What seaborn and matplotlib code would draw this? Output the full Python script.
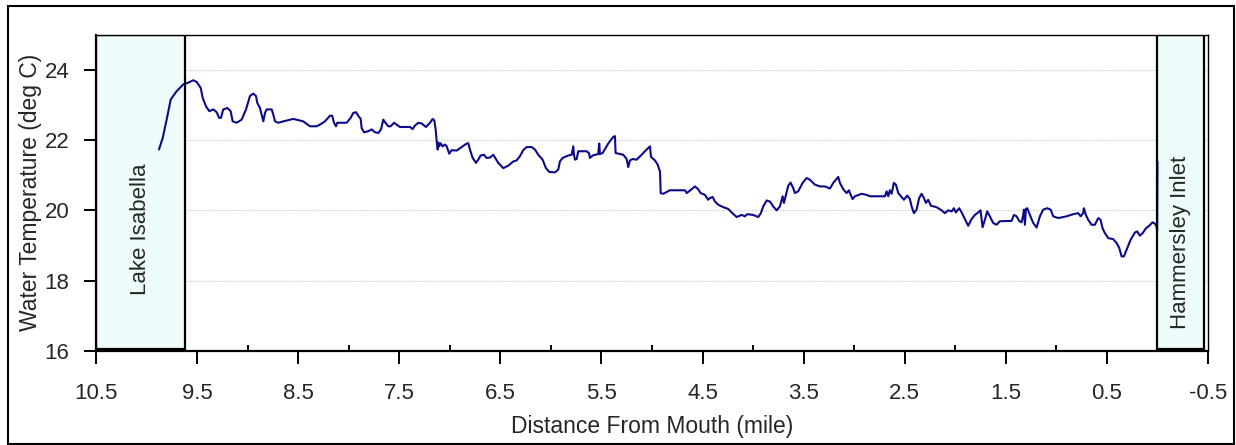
import matplotlib
matplotlib.use("Agg")
import matplotlib.pyplot as plt
from matplotlib.patches import Rectangle
from matplotlib.ticker import FixedLocator
import pandas as pd
import seaborn as sns

# Water temperature along the channel, by distance upstream from the mouth
distance_mi = [
    9.877, 9.840, 9.801, 9.761, 9.702, 9.637, 9.587, 9.538, 9.504, 9.464,
    9.445, 9.412, 9.379, 9.340, 9.306, 9.283, 9.264, 9.241, 9.201, 9.168,
    9.148, 9.108, 9.059, 9.016, 8.977, 8.944, 8.917, 8.905, 8.878, 8.845,
    8.828, 8.812, 8.762, 8.746, 8.729, 8.697, 8.647, 8.548, 8.450, 8.383,
    8.317, 8.284, 8.235, 8.185, 8.163, 8.146, 8.126, 8.113, 8.020, 7.981,
    7.955, 7.928, 7.906, 7.882, 7.872, 7.849, 7.807, 7.773, 7.740, 7.708,
    7.681, 7.658, 7.642, 7.609, 7.585, 7.552, 7.493, 7.394, 7.368, 7.345,
    7.312, 7.278, 7.236, 7.196, 7.170, 7.154, 7.140, 7.130, 7.120, 7.114,
    7.104, 7.091, 7.071, 7.048, 7.031, 7.006, 6.982, 6.932, 6.883, 6.833,
    6.818, 6.801, 6.774, 6.741, 6.719, 6.695, 6.662, 6.636, 6.603, 6.570,
    6.544, 6.521, 6.471, 6.422, 6.372, 6.339, 6.306, 6.274, 6.240, 6.190,
    6.158, 6.125, 6.082, 6.049, 6.016, 5.960, 5.927, 5.911, 5.884, 5.828,
    5.795, 5.779, 5.772, 5.762, 5.745, 5.730, 5.646, 5.624, 5.614, 5.587,
    5.532, 5.522, 5.515, 5.488, 5.433, 5.383, 5.367, 5.360, 5.317, 5.284,
    5.251, 5.235, 5.218, 5.192, 5.152, 5.103, 5.053, 5.020, 5.010, 4.971,
    4.944, 4.928, 4.921, 4.914, 4.889, 4.823, 4.674, 4.657, 4.608, 4.575,
    4.543, 4.519, 4.476, 4.444, 4.427, 4.400, 4.377, 4.345, 4.295, 4.246,
    4.212, 4.163, 4.113, 4.081, 4.058, 3.999, 3.949, 3.923, 3.900, 3.866,
    3.833, 3.801, 3.767, 3.735, 3.708, 3.695, 3.675, 3.652, 3.629, 3.603,
    3.586, 3.554, 3.510, 3.470, 3.438, 3.388, 3.339, 3.289, 3.240, 3.207,
    3.158, 3.141, 3.108, 3.075, 3.052, 3.035, 3.016, 2.993, 2.926, 2.877,
    2.844, 2.696, 2.679, 2.663, 2.647, 2.630, 2.607, 2.587, 2.564, 2.531,
    2.508, 2.475, 2.449, 2.432, 2.409, 2.383, 2.357, 2.333, 2.310, 2.290,
    2.268, 2.241, 2.185, 2.135, 2.103, 2.070, 2.036, 2.014, 1.994, 1.961,
    1.937, 1.905, 1.872, 1.839, 1.806, 1.773, 1.750, 1.730, 1.707, 1.684,
    1.658, 1.625, 1.591, 1.559, 1.443, 1.420, 1.393, 1.368, 1.344, 1.328,
    1.321, 1.311, 1.301, 1.288, 1.262, 1.229, 1.195, 1.163, 1.130, 1.091,
    1.057, 1.031, 0.982, 0.899, 0.834, 0.784, 0.760, 0.735, 0.728, 0.708,
    0.685, 0.652, 0.619, 0.586, 0.563, 0.543, 0.520, 0.487, 0.438, 0.404,
    0.378, 0.355, 0.332, 0.305, 0.266, 0.223, 0.200, 0.174, 0.147, 0.114,
    0.082, 0.048, 0.025, 0.009, 0.003, 0.000,
]
water_temp_c = [
    21.73, 22.06, 22.58, 23.15, 23.39, 23.58, 23.63, 23.70, 23.65, 23.48,
    23.20, 22.96, 22.82, 22.87, 22.79, 22.63, 22.63, 22.87, 22.91, 22.82,
    22.53, 22.49, 22.58, 22.87, 23.25, 23.32, 23.25, 23.06, 22.91, 22.53,
    22.77, 22.87, 22.87, 22.72, 22.53, 22.49, 22.53, 22.60, 22.53, 22.39,
    22.39, 22.44, 22.53, 22.69, 22.69, 22.49, 22.39, 22.49, 22.49, 22.63,
    22.77, 22.79, 22.69, 22.60, 22.34, 22.22, 22.25, 22.30, 22.22, 22.20,
    22.30, 22.58, 22.51, 22.39, 22.39, 22.49, 22.37, 22.37, 22.31, 22.41,
    22.49, 22.47, 22.37, 22.49, 22.60, 22.56, 22.30, 21.96, 21.73, 21.93,
    21.82, 21.91, 21.82, 21.87, 21.82, 21.61, 21.71, 21.70, 21.80, 21.90,
    21.91, 21.73, 21.49, 21.35, 21.44, 21.56, 21.58, 21.49, 21.50, 21.58,
    21.46, 21.35, 21.20, 21.27, 21.39, 21.42, 21.54, 21.71, 21.80, 21.80,
    21.73, 21.58, 21.44, 21.20, 21.09, 21.08, 21.16, 21.39, 21.49, 21.56,
    21.58, 21.82, 21.58, 21.44, 21.46, 21.68, 21.68, 21.63, 21.49, 21.56,
    21.60, 21.90, 21.60, 21.63, 21.90, 22.09, 22.11, 21.63, 21.60, 21.58,
    21.46, 21.23, 21.42, 21.46, 21.44, 21.58, 21.73, 21.82, 21.52, 21.42,
    21.30, 21.16, 21.11, 20.49, 20.47, 20.57, 20.57, 20.49, 20.60, 20.68,
    20.60, 20.49, 20.44, 20.30, 20.35, 20.38, 20.25, 20.16, 20.09, 20.04,
    19.94, 19.81, 19.87, 19.83, 19.89, 19.87, 19.81, 19.92, 20.11, 20.28,
    20.25, 20.11, 20.00, 20.11, 20.40, 20.21, 20.44, 20.70, 20.79, 20.63,
    20.49, 20.54, 20.78, 20.92, 20.87, 20.73, 20.68, 20.68, 20.62, 20.78,
    20.95, 20.78, 20.60, 20.49, 20.57, 20.44, 20.32, 20.40, 20.47, 20.44,
    20.40, 20.40, 20.54, 20.40, 20.57, 20.47, 20.78, 20.73, 20.49, 20.38,
    20.30, 20.42, 20.32, 20.11, 19.92, 20.02, 20.35, 20.47, 20.35, 20.21,
    20.30, 20.13, 20.09, 20.00, 19.92, 20.00, 19.97, 20.06, 19.94, 20.06,
    19.94, 19.75, 19.56, 19.75, 19.87, 19.94, 20.00, 19.52, 19.73, 19.97,
    19.83, 19.64, 19.59, 19.69, 19.70, 19.87, 19.83, 19.70, 19.66, 19.87,
    20.02, 19.59, 20.04, 20.06, 19.87, 19.64, 19.51, 19.83, 20.02, 20.06,
    20.02, 19.83, 19.78, 19.83, 19.89, 19.92, 19.83, 19.92, 20.06, 19.87,
    19.73, 19.59, 19.59, 19.78, 19.73, 19.49, 19.35, 19.21, 19.18, 19.07,
    18.93, 18.69, 18.69, 18.88, 19.16, 19.37, 19.40, 19.28, 19.35, 19.49,
    19.56, 19.66, 19.62, 19.54, 19.40, 21.38,
]

x_ticks = [10.5, 9.5, 8.5, 7.5, 6.5, 5.5, 4.5, 3.5, 2.5, 1.5, 0.5, -0.5]
x_tick_labels = ["10.5", "9.5", "8.5", "7.5", "6.5", "5.5", "4.5", "3.5",
                 "2.5", "1.5", "0.5", "-0.5"]
x_minor_ticks = [10, 9, 8, 7, 6, 5, 4, 3, 2, 1, 0]
y_ticks = [16, 18, 20, 22, 24]
y_tick_labels = ["16", "18", "20", "22", "24"]

# Water bodies at either end of the reach (distance extents, miles)
region_names = ["Lake Isabella", "Hammersley Inlet"]
region_starts = [10.5, 0.0]
region_ends = [9.62, -0.46]

sns.set_style("white")
plt.rcParams["font.family"] = ["Liberation Sans", "DejaVu Sans"]

W, H = 1236, 445
fig = plt.figure(figsize=(W / 100, H / 100), dpi=100)
ax = fig.add_axes([96 / W, 94 / H, 1112 / W, 316.5 / H])

df = pd.DataFrame({"distance": distance_mi, "temp": water_temp_c})

# shaded end regions
for name, x0, x1 in zip(region_names, region_starts, region_ends):
    ax.add_patch(Rectangle((x0, 16.05), x1 - x0, 25 - 16.05,
                           facecolor="#eefcfc", edgecolor="none", zorder=1))
    ax.add_patch(Rectangle((x0, 16.05), x1 - x0, 25 - 16.05,
                           fill=False, edgecolor="black", lw=1.6, zorder=4))

sns.lineplot(data=df, x="distance", y="temp", sort=False, estimator=None,
             color="#0c0c8a", lw=1.5, ax=ax, zorder=3)

ax.text((region_starts[0] + region_ends[0]) / 2, 19.45, region_names[0],
        rotation=90, ha="center", va="center", fontsize=16, zorder=5)
ax.text((region_starts[1] + region_ends[1]) / 2, 19.1, region_names[1],
        rotation=90, ha="center", va="center", fontsize=16, zorder=5)

ax.set_xlim(10.5, -0.5)
ax.set_ylim(16, 25)
ax.xaxis.set_major_locator(FixedLocator(x_ticks))
ax.set_xticklabels(x_tick_labels)
ax.xaxis.set_minor_locator(FixedLocator(x_minor_ticks))
ax.set_yticks(y_ticks)
ax.set_yticklabels(y_tick_labels)

ax.yaxis.grid(True, color="#d4d4d4", ls=(0, (1.5, 1)), lw=0.8)
ax.xaxis.grid(False)
ax.set_axisbelow(True)

for side in ["left", "bottom"]:
    ax.spines[side].set_linewidth(1.6)
    ax.spines[side].set_color("black")
for side in ["top", "right"]:
    ax.spines[side].set_linewidth(1.0)
    ax.spines[side].set_color("black")

ax.tick_params(axis="x", which="major", direction="out", length=9, width=1.4,
               pad=14, labelsize=16, color="black")
ax.tick_params(axis="x", which="minor", direction="in", length=4, width=1.4,
               color="black")
ax.tick_params(axis="y", which="major", direction="out", length=9, width=1.4,
               pad=10, labelsize=16, color="black", left=True)
ax.tick_params(axis="x", bottom=True, which="both")

ax.set_xlabel("Distance From Mouth (mile)", fontsize=16.5, labelpad=8)
ax.set_ylabel("Water Temperature (deg C)", fontsize=16.5, labelpad=2)

# outer chart frame
fig.patches.append(Rectangle((8 / W, 1 / H), (1234 - 8) / W, (H - 7) / H,
                             transform=fig.transFigure, fill=False,
                             edgecolor="black", lw=1.5))

fig.savefig("out.png", dpi=100)
